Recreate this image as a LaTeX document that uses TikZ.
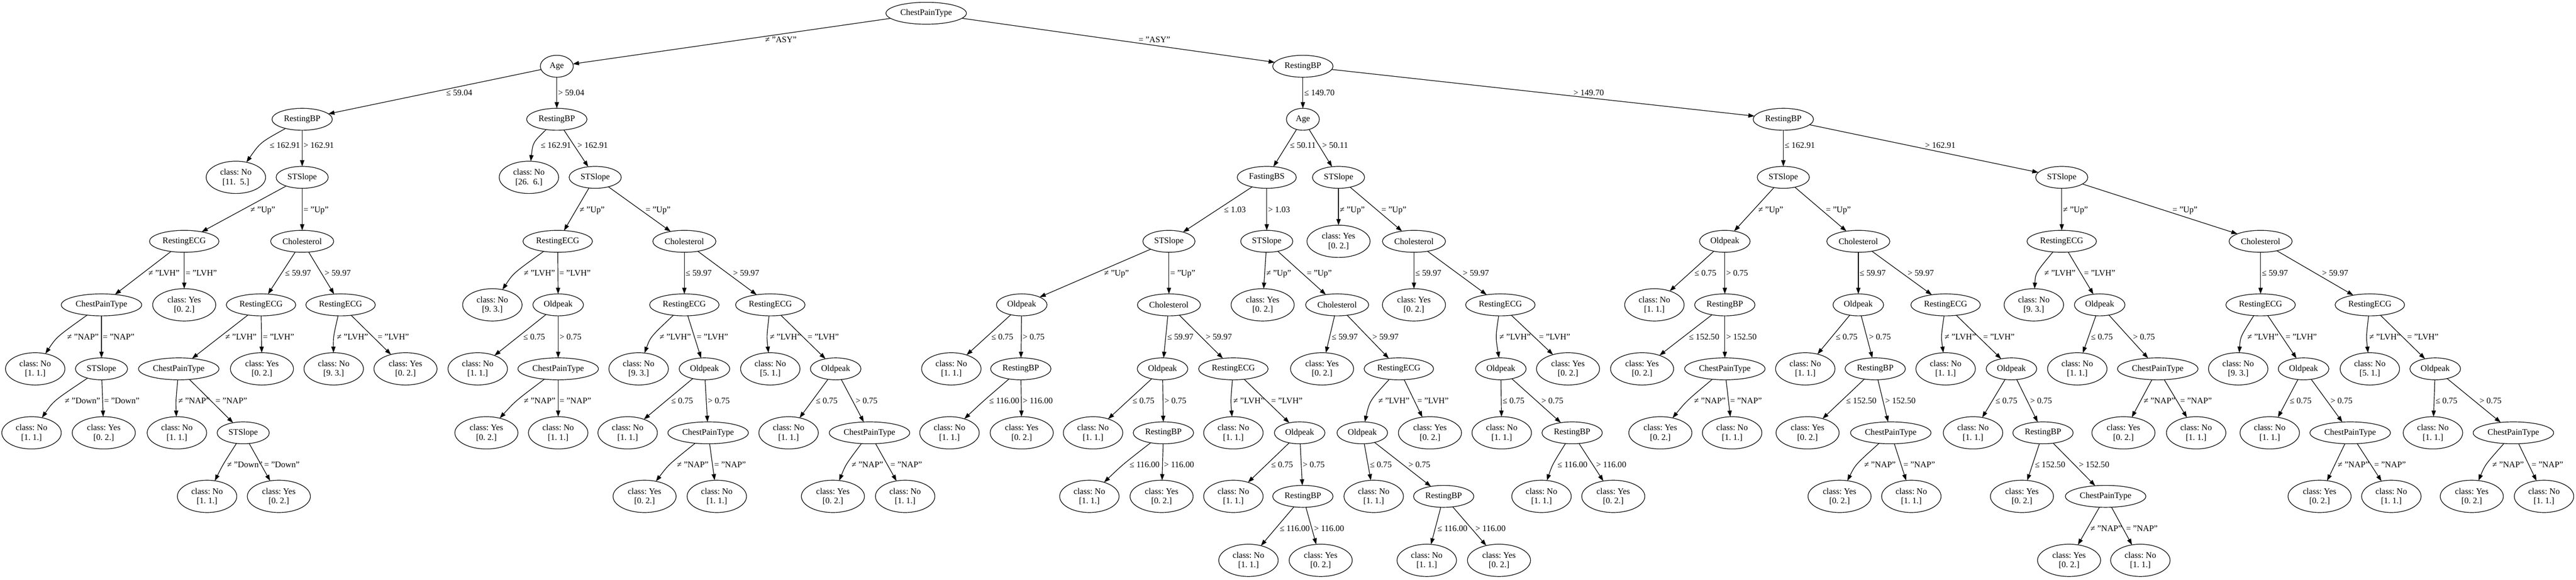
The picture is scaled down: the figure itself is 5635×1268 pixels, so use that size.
\documentclass[tikz,border=0pt]{standalone}
\usepackage{fontspec}
\setmainfont{Liberation Serif}
\usetikzlibrary{arrows.meta,shapes.geometric,calc}
\newcommand\nf{\fontsize{14pt}{15.5pt}\selectfont\frenchspacing}
\tikzset{
  nd/.style={ellipse, draw, line width=1pt, inner sep=0pt, outer sep=0pt, minimum height=36pt, font=\nf, align=center},
  sCPT/.style={nd, minimum width=132pt},
  sRBP/.style={nd, minimum width=99pt},
  sECG/.style={nd, minimum width=114pt},
  sSTS/.style={nd, minimum width=85.5pt},
  sCHO/.style={nd, minimum width=103.5pt},
  sAge/.style={nd, minimum width=54pt},
  sOLD/.style={nd, minimum width=83pt},
  sFBS/.style={nd, minimum width=97pt},
  sNo/.style={nd, minimum width=97.5pt, minimum height=53pt},
  sYes/.style={nd, minimum width=103.5pt, minimum height=53pt},
  lbl/.style={inner sep=0pt, outer sep=0pt, font=\nf, anchor=west, text height=9.5pt, text depth=0pt},
  conn/.style={line width=1pt, -{Triangle[length=10pt,width=7pt]}},
}
\newcommand\lfN[4]{\node[sNo] (#1) at (#2,#3) {class: No\\{}[#4]};}
\newcommand\lfY[3]{\node[sYes] (#1) at (#2,#3) {class: Yes\\{}[0. 2.]};}
% straight connector, label just right of it
\newcommand\edg[4][0.5]{%
  \draw[conn] (#2) -- (#3);
  \path let \p1=(#2), \p2=(#3) in
    ($(#2)!#1!(#3) + ({(5.25*abs(((\x2)-(\x1))/((\y2)-(\y1)))+2.25)*1pt},0pt)$) coordinate (#3-lc);
  \node[lbl] (#3-l) at (#3-lc) {#4};
}
% connector bent to pass just left of a label placed at x = #5 (px)
\newcommand\edgx[5][0.5]{%
  \path let \p1=($(#2)!#1!(#3)$), \p2=(#2), \p3=(#3) in
    ({#5*0.75pt-(5.25*abs(((\x3)-(\x2))/((\y3)-(\y2)))+2.25)*1pt},\y1) coordinate (#3-v)
    ({#5*0.75pt},\y1) coordinate (#3-lc);
  \draw[conn] (#2) .. controls ($2*(#3-v)-0.5*(#2)-0.5*(#3)$) .. (#3);
  \node[lbl] (#3-l) at (#3-lc) {#4};
}
\begin{document}
\begin{tikzpicture}[x=0.75pt,y=-0.75pt]
\fill[white] (0,0) rectangle (5635,1268);
\useasboundingbox (0,0) rectangle (5635,1268);
% level 0-3
\node[sCPT] (r) at (2026,29) {ChestPainType};
\node[sAge] (a) at (1218,145) {Age};
\node[sRBP] (b) at (2850,145) {RestingBP};
\node[sRBP] (a1) at (661,261) {RestingBP};
\node[sRBP] (a2) at (1218,261) {RestingBP};
\node[sAge] (b1) at (2850,261) {Age};
\node[sRBP] (b2) at (3901,261) {RestingBP};
\lfN{a1x}{516}{388}{11.~~5.}
\node[sSTS] (a1s) at (661,388) {STSlope};
\lfN{a2x}{1157}{388}{26.~~6.}
\node[sSTS] (a2s) at (1302,388) {STSlope};
\node[sFBS] (b1f) at (2771,388) {FastingBS};
\node[sSTS] (b1s) at (2928,388) {STSlope};
\node[sSTS] (b2s) at (3901,388) {STSlope};
\node[sSTS] (b2t) at (4510,388) {STSlope};
% level 4
\node[sECG] (n1) at (403,528) {RestingECG};
\node[sCHO] (n2) at (661,528) {Cholesterol};
\node[sECG] (n3) at (1220,528) {RestingECG};
\node[sCHO] (n4) at (1497,528) {Cholesterol};
\node[sSTS] (n5) at (2557,528) {STSlope};
\node[sSTS] (n6) at (2771,528) {STSlope};
\lfY{n7}{2928}{528}
\node[sCHO] (n8) at (3093,528) {Cholesterol};
\node[sOLD] (n9) at (3773,528) {Oldpeak};
\node[sCHO] (n10) at (4065,528) {Cholesterol};
\node[sECG] (n11) at (4510,528) {RestingECG};
\node[sCHO] (n12) at (4945,528) {Cholesterol};
% level 5
\node[sCPT] (m1) at (222,667) {ChestPainType};
\lfY{m2}{403}{667}
\node[sECG] (m3) at (571,667) {RestingECG};
\node[sECG] (m4) at (745,667) {RestingECG};
\lfN{m5}{1077}{667}{9. 3.}
\node[sOLD] (m6) at (1221,667) {Oldpeak};
\node[sECG] (m7) at (1497,667) {RestingECG};
\node[sECG] (m8) at (1685,667) {RestingECG};
\node[sOLD] (m9) at (2235,667) {Oldpeak};
\node[sCHO] (m10) at (2557,667) {Cholesterol};
\lfY{m11}{2762}{667}
\node[sCHO] (m12) at (2925,667) {Cholesterol};
\lfY{m13}{3093}{667}
\node[sECG] (m14) at (3282,667) {RestingECG};
\lfN{m15}{3619}{667}{1. 1.}
\node[sRBP] (m16) at (3773,667) {RestingBP};
\node[sOLD] (m17) at (4065,667) {Oldpeak};
\node[sECG] (m18) at (4256,667) {RestingECG};
\lfN{m19}{4449}{667}{9. 3.}
\node[sOLD] (m20) at (4593,667) {Oldpeak};
\node[sECG] (m21) at (4945,667) {RestingECG};
\node[sECG] (m22) at (5184,667) {RestingECG};
% level 6
\lfN{k1}{77}{807}{1. 1.}
\node[sSTS] (k2) at (222,807) {STSlope};
\node[sCPT] (k3) at (391,807) {ChestPainType};
\lfY{k4}{573}{807}
\lfN{k5}{730}{807}{9. 3.}
\lfY{k6}{887}{807}
\lfN{k7}{1045}{807}{1. 1.}
\node[sCPT] (k8) at (1221,807) {ChestPainType};
\lfN{k9}{1397}{807}{9. 3.}
\node[sOLD] (k10) at (1541,807) {Oldpeak};
\lfN{k11}{1685}{807}{5. 1.}
\node[sOLD] (k12) at (1828,807) {Oldpeak};
\lfN{k13}{2081}{807}{1. 1.}
\node[sRBP] (k14) at (2233,807) {RestingBP};
\node[sOLD] (k15) at (2543,807) {Oldpeak};
\node[sECG] (k16) at (2698,807) {RestingECG};
\lfY{k17}{2892}{807}
\node[sECG] (k18) at (3060,807) {RestingECG};
\node[sOLD] (k19) at (3283,807) {Oldpeak};
\lfY{k20}{3430}{807}
\lfY{k21}{3592}{807}
\node[sCPT] (k22) at (3773,807) {ChestPainType};
\lfN{k23}{3949}{807}{1. 1.}
\node[sRBP] (k24) at (4102,807) {RestingBP};
\lfN{k25}{4256}{807}{1. 1.}
\node[sOLD] (k26) at (4400,807) {Oldpeak};
\lfN{k27}{4544}{807}{1. 1.}
\node[sCPT] (k28) at (4720,807) {ChestPainType};
\lfN{k29}{4896}{807}{9. 3.}
\node[sOLD] (k30) at (5039,807) {Oldpeak};
\lfN{k31}{5184}{807}{5. 1.}
\node[sOLD] (k32) at (5327,807) {Oldpeak};
% level 7
\lfN{j1}{69}{947}{1. 1.}
\lfY{j2}{227}{947}
\lfN{j3}{387}{947}{1. 1.}
\node[sSTS] (j4) at (532,947) {STSlope};
\lfY{j5}{1064}{947}
\lfN{j6}{1221}{947}{1. 1.}
\lfN{j7}{1373}{947}{1. 1.}
\node[sCPT] (j8) at (1549,947) {ChestPainType};
\lfN{j9}{1725}{947}{1. 1.}
\node[sCPT] (j10) at (1902,947) {ChestPainType};
\lfN{j11}{2077}{947}{1. 1.}
\lfY{j12}{2235}{947}
\lfN{j13}{2391}{947}{1. 1.}
\node[sRBP] (j14) at (2545,947) {RestingBP};
\lfN{j15}{2698}{947}{1. 1.}
\node[sOLD] (j16) at (2843,947) {Oldpeak};
\node[sOLD] (j17) at (2980,947) {Oldpeak};
\lfY{j18}{3128}{947}
\lfN{j19}{3285}{947}{1. 1.}
\node[sRBP] (j20) at (3439,947) {RestingBP};
\lfY{j21}{3632}{947}
\lfN{j22}{3789}{947}{1. 1.}
\lfY{j23}{3954}{947}
\node[sCPT] (j24) at (4136,947) {ChestPainType};
\lfN{j25}{4316}{947}{1. 1.}
\node[sRBP] (j26) at (4469,947) {RestingBP};
\lfY{j27}{4645}{947}
\lfN{j28}{4804}{947}{1. 1.}
\lfN{j29}{4965}{947}{1. 1.}
\node[sCPT] (j30) at (5141,947) {ChestPainType};
\lfN{j31}{5322}{947}{1. 1.}
\node[sCPT] (j32) at (5498,947) {ChestPainType};
% level 8
\lfN{i1}{453}{1086}{1. 1.}
\lfY{i2}{610}{1086}
\lfY{i3}{1410}{1086}
\lfN{i4}{1568}{1086}{1. 1.}
\lfY{i5}{1822}{1086}
\lfN{i6}{1980}{1086}{1. 1.}
\lfN{i7}{2383}{1086}{1. 1.}
\lfY{i8}{2541}{1086}
\lfN{i9}{2698}{1086}{1. 1.}
\node[sRBP] (i10) at (2850,1086) {RestingBP};
\lfN{i11}{3005}{1086}{1. 1.}
\node[sRBP] (i12) at (3158,1086) {RestingBP};
\lfN{i13}{3372}{1086}{1. 1.}
\lfY{i14}{3529}{1086}
\lfY{i15}{4024}{1086}
\lfN{i16}{4181}{1086}{1. 1.}
\lfY{i17}{4423}{1086}
\node[sCPT] (i18) at (4606,1086) {ChestPainType};
\lfY{i19}{5074}{1086}
\lfN{i20}{5231}{1086}{1. 1.}
\lfY{i21}{5407}{1086}
\lfN{i22}{5565}{1086}{1. 1.}
% level 9
\lfN{h1}{2731}{1226}{1. 1.}
\lfY{h2}{2889}{1226}
\lfN{h3}{3121}{1226}{1. 1.}
\lfY{h4}{3279}{1226}
\lfY{h5}{4526}{1226}
\lfN{h6}{4682}{1226}{1. 1.}
% edges 0-3
\edg{r}{a}{≠ "ASY"}
\edg{r}{b}{= "ASY"}
\edg{a}{a1}{≤ 59.04}
\edg{a}{a2}{> 59.04}
\edg{b}{b1}{≤ 149.70}
\edg{b}{b2}{> 149.70}
\edgx[0.449]{a1}{a1x}{≤ 162.91}{590}
\edg[0.449]{a1}{a1s}{> 162.91}
\edgx[0.449]{a2}{a2x}{≤ 162.91}{1183}
\edg[0.449]{a2}{a2s}{> 162.91}
\edg[0.449]{b1}{b1f}{≤ 50.11}
\edg[0.449]{b1}{b1s}{> 50.11}
\edg[0.449]{b2}{b2s}{≤ 162.91}
\edg[0.449]{b2}{b2t}{> 162.91}
% edges 3-4
\edg{a1s}{n1}{≠ "Up"}
\edg{a1s}{n2}{= "Up"}
\edg{a2s}{n3}{≠ "Up"}
\edg{a2s}{n4}{= "Up"}
\edg{b1f}{n5}{≤ 1.03}
\edg{b1f}{n6}{> 1.03}
\edg{b1s}{n7}{≠ "Up"}
\edg{b1s}{n8}{= "Up"}
\edg{b2s}{n9}{≠ "Up"}
\edg{b2s}{n10}{= "Up"}
\edg{b2t}{n11}{≠ "Up"}
\edg{b2t}{n12}{= "Up"}
% edges 4-5
\edg{n1}{m1}{≠ "LVH"}
\edg{n1}{m2}{= "LVH"}
\edg{n2}{m3}{≤ 59.97}
\edg{n2}{m4}{> 59.97}
\edgx{n3}{m5}{≠ "LVH"}{1146}
\edg{n3}{m6}{= "LVH"}
\edg{n4}{m7}{≤ 59.97}
\edg{n4}{m8}{> 59.97}
\edg{n5}{m9}{≠ "Up"}
\edg{n5}{m10}{= "Up"}
\edg{n6}{m11}{≠ "Up"}
\edg{n6}{m12}{= "Up"}
\edg{n8}{m13}{≤ 59.97}
\edg{n8}{m14}{> 59.97}
\edg{n9}{m15}{≤ 0.75}
\edg{n9}{m16}{> 0.75}
\edg{n10}{m17}{≤ 59.97}
\edg{n10}{m18}{> 59.97}
\edgx{n11}{m19}{≠ "LVH"}{4472}
\edg{n11}{m20}{= "LVH"}
\edg{n12}{m21}{≤ 59.97}
\edg{n12}{m22}{> 59.97}
% edges 5-6
\edgx{m1}{k1}{≠ "NAP"}{147}
\edg{m1}{k2}{= "NAP"}
\edg{m3}{k3}{≠ "LVH"}
\edg{m3}{k4}{= "LVH"}
\edgx{m4}{k5}{≠ "LVH"}{737}
\edg{m4}{k6}{= "LVH"}
\edg{m6}{k7}{≤ 0.75}
\edg{m6}{k8}{> 0.75}
\edgx{m7}{k9}{≠ "LVH"}{1443}
\edg{m7}{k10}{= "LVH"}
\edgx{m8}{k11}{≠ "LVH"}{1684}
\edg{m8}{k12}{= "LVH"}
\edg{m9}{k13}{≤ 0.75}
\edg{m9}{k14}{> 0.75}
\edg{m10}{k15}{≤ 59.97}
\edg{m10}{k16}{> 59.97}
\edg{m12}{k17}{≤ 59.97}
\edg{m12}{k18}{> 59.97}
\edgx{m14}{k19}{≠ "LVH"}{3280}
\edg{m14}{k20}{= "LVH"}
\edg{m16}{k21}{≤ 152.50}
\edg{m16}{k22}{> 152.50}
\edg{m17}{k23}{≤ 0.75}
\edg{m17}{k24}{> 0.75}
\edgx{m18}{k25}{≠ "LVH"}{4254}
\edg{m18}{k26}{= "LVH"}
\edg{m20}{k27}{≤ 0.75}
\edg{m20}{k28}{> 0.75}
\edgx{m21}{k29}{≠ "LVH"}{4916}
\edg{m21}{k30}{= "LVH"}
\edgx{m22}{k31}{≠ "LVH"}{5183}
\edg{m22}{k32}{= "LVH"}
% edges 6-7
\edgx{k2}{j1}{≠ "Down"}{142}
\edg{k2}{j2}{= "Down"}
\edgx{k3}{j3}{≠ "NAP"}{390}
\edg{k3}{j4}{= "NAP"}
\edgx{k8}{j5}{≠ "NAP"}{1146}
\edg{k8}{j6}{= "NAP"}
\edg{k10}{j7}{≤ 0.75}
\edg{k10}{j8}{> 0.75}
\edg{k12}{j9}{≤ 0.75}
\edg{k12}{j10}{> 0.75}
\edgx{k14}{j11}{≤ 116.00}{2164}
\edg{k14}{j12}{> 116.00}
\edg{k15}{j13}{≤ 0.75}
\edg{k15}{j14}{> 0.75}
\edgx{k16}{j15}{≠ "LVH"}{2698}
\edg{k16}{j16}{= "LVH"}
\edgx{k18}{j17}{≠ "LVH"}{3015}
\edg{k18}{j18}{= "LVH"}
\edg{k19}{j19}{≤ 0.75}
\edg{k19}{j20}{> 0.75}
\edgx{k22}{j21}{≠ "NAP"}{3706}
\edg{k22}{j22}{= "NAP"}
\edg{k24}{j23}{≤ 152.50}
\edg{k24}{j24}{> 152.50}
\edg{k26}{j25}{≤ 0.75}
\edg{k26}{j26}{> 0.75}
\edg{k28}{j27}{≠ "NAP"}
\edg{k28}{j28}{= "NAP"}
\edg{k30}{j29}{≤ 0.75}
\edg{k30}{j30}{> 0.75}
\edg{k32}{j31}{≤ 0.75}
\edg{k32}{j32}{> 0.75}
% edges 7-8
\edgx{j4}{i1}{≠ "Down"}{497}
\edg{j4}{i2}{= "Down"}
\edgx{j8}{i3}{≠ "NAP"}{1481}
\edg{j8}{i4}{= "NAP"}
\edgx{j10}{i5}{≠ "NAP"}{1863}
\edg{j10}{i6}{= "NAP"}
\edgx{j14}{i7}{≤ 116.00}{2471}
\edg{j14}{i8}{> 116.00}
\edg{j16}{i9}{≤ 0.75}
\edg{j16}{i10}{> 0.75}
\edg{j17}{i11}{≤ 0.75}
\edg{j17}{i12}{> 0.75}
\edgx{j20}{i13}{≤ 116.00}{3407}
\edg{j20}{i14}{> 116.00}
\edgx{j24}{i15}{≠ "NAP"}{4078}
\edg{j24}{i16}{= "NAP"}
\edg{j26}{i17}{≤ 152.50}
\edg{j26}{i18}{> 152.50}
\edg{j30}{i19}{≠ "NAP"}
\edg{j30}{i20}{= "NAP"}
\edgx{j32}{i21}{≠ "NAP"}{5452}
\edg{j32}{i22}{= "NAP"}
% edges 8-9
\edg{i10}{h1}{≤ 116.00}
\edg{i10}{h2}{> 116.00}
\edg{i12}{h3}{≤ 116.00}
\edg{i12}{h4}{> 116.00}
\edg{i18}{h5}{≠ "NAP"}
\edg{i18}{h6}{= "NAP"}
\end{tikzpicture}
\end{document}
